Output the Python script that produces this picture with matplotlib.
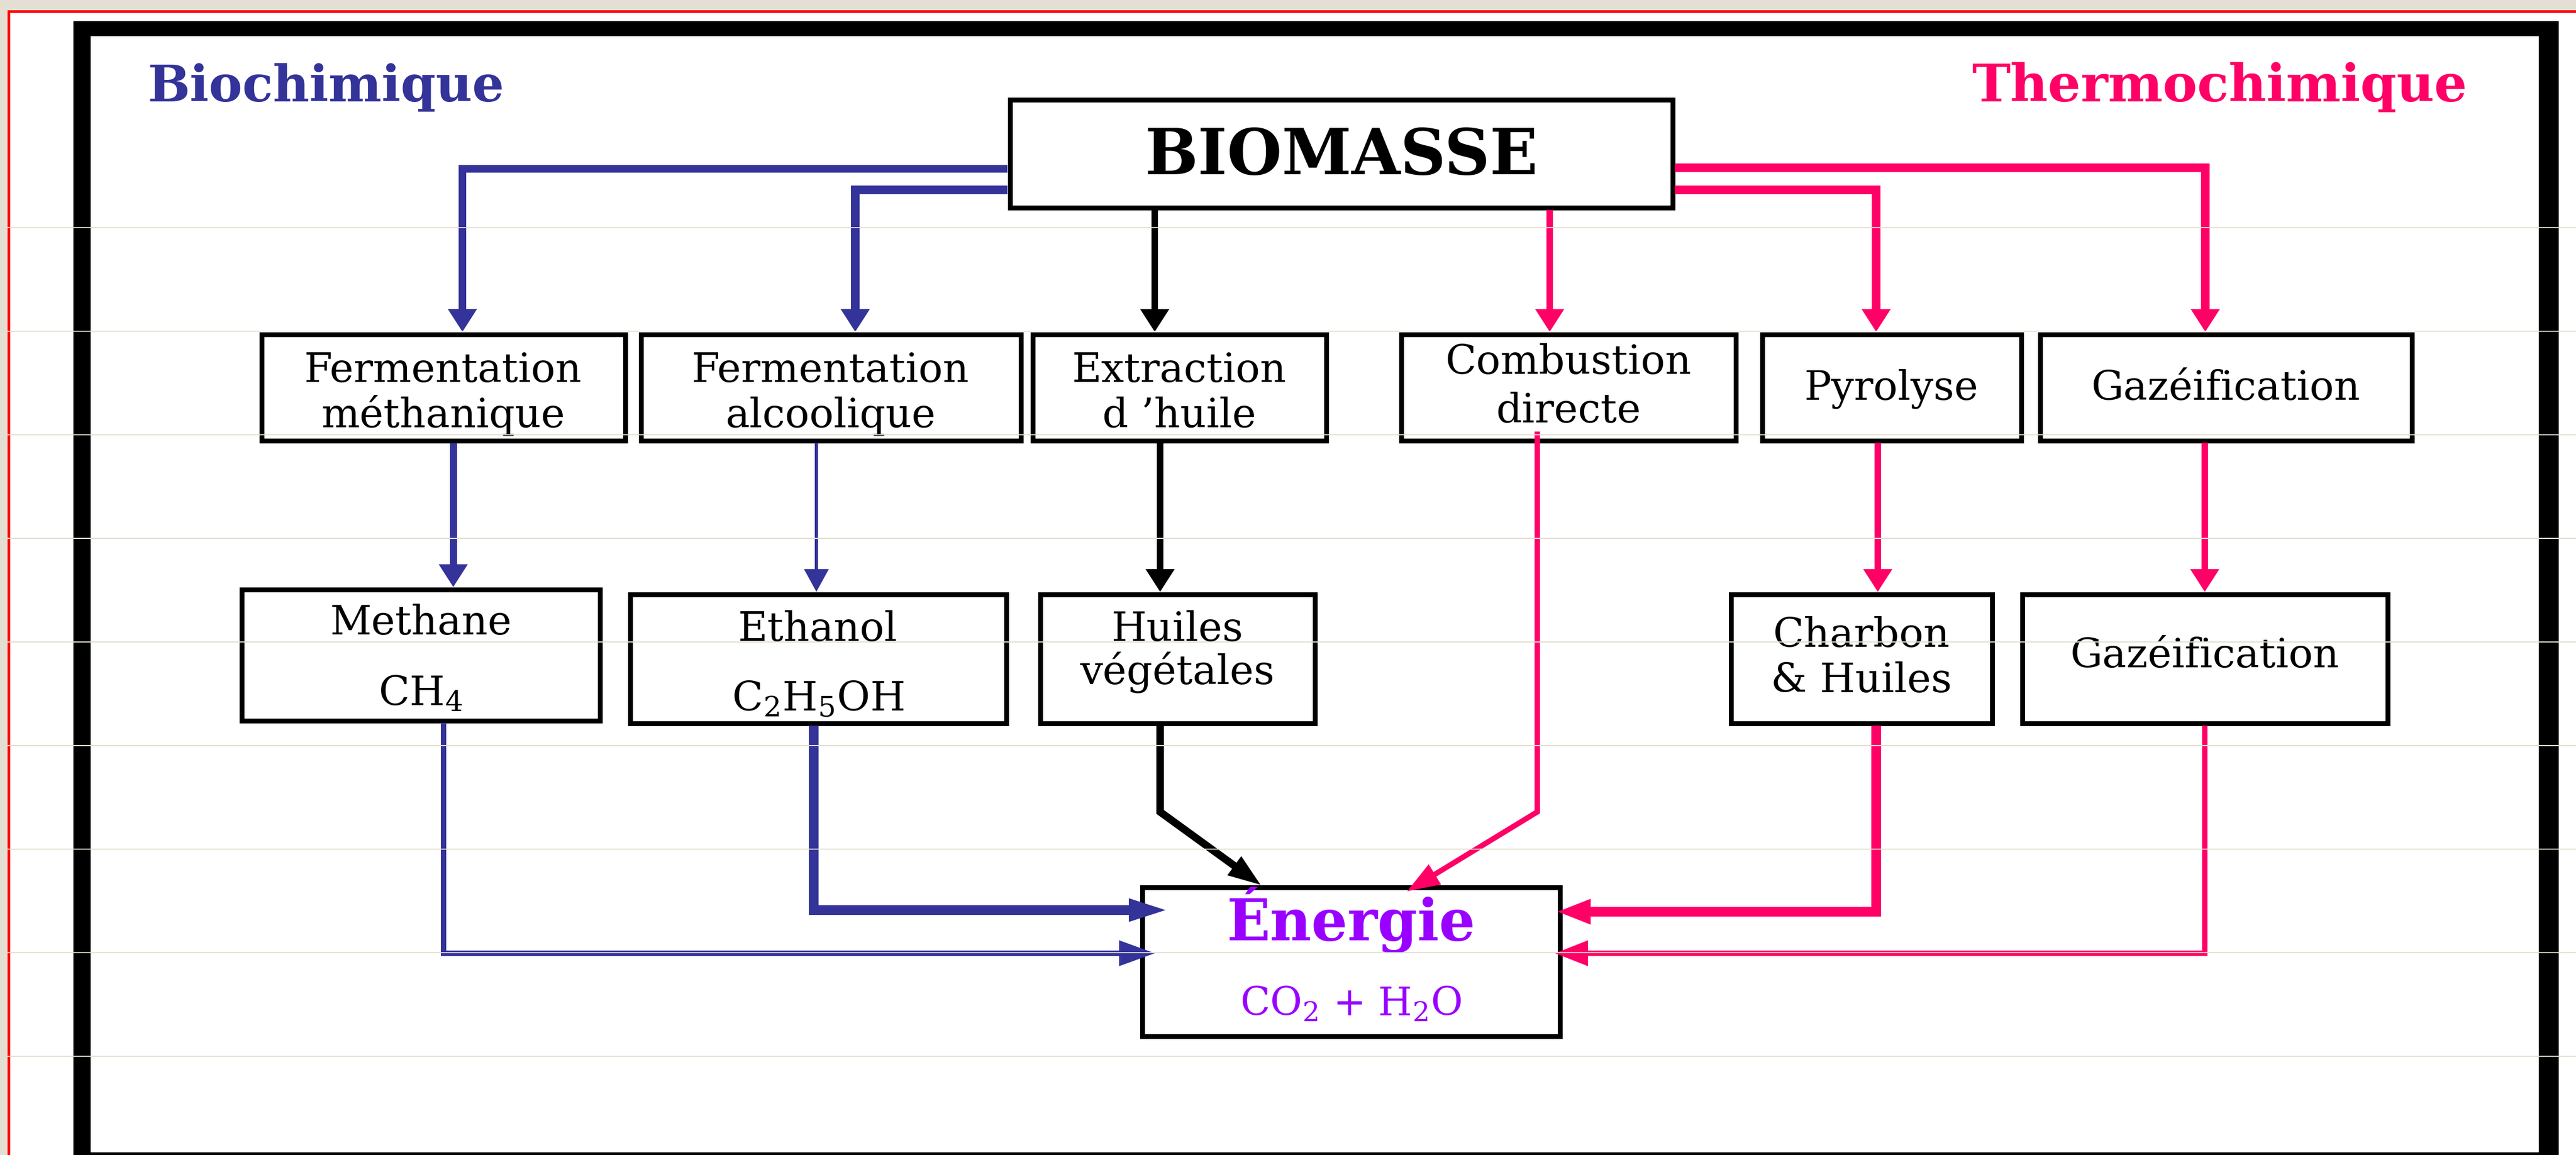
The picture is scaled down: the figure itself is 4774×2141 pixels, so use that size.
import numpy as np
import matplotlib
matplotlib.use("Agg")
import matplotlib.pyplot as plt
from matplotlib.patches import Rectangle, Polygon

plt.rcParams['font.family'] = 'DejaVu Serif'
plt.rcParams['mathtext.fontset'] = 'dejavuserif'

PT = 0.72  # 1 px en points (dpi 100)

BLEU = '#333399'
ROSE = '#FF0066'
VIOLET = '#9900FF'
BEIGE = '#E5DED3'

# textes du schema
titre_gauche = "Biochimique"
titre_droite = "Thermochimique"
source = "BIOMASSE"
procedes = [["Fermentation", "méthanique"], ["Fermentation", "alcoolique"],
            ["Extraction", "d \u2019huile"], ["Combustion", "directe"],
            ["Pyrolyse"], ["Gazéification"]]
produits = [["Methane", "CH$_4$"], ["Ethanol", "C$_2$H$_5$OH"], ["Huiles", "végétales"],
            ["Charbon", "& Huiles"], ["Gazéification"]]
final = ["Énergie", "CO$_2$ + H$_2$O"]

# mise en page (pixels de l'image)
box_source = (1867, 3104, 180, 389)
box_proc = [(480, 1163), (1183, 1896), (1909, 2462), (2592, 3221), (3261, 3750), (3776, 4474)]
y_proc = (615, 821)
base_proc = [(708, 792), (708, 792), (708, 792), (693, 783), (741,), (741,)]
box_prod = [(443, 1116, 1088, 1340), (1163, 1869, 1097, 1345), (1923, 2441, 1097, 1345),
            (3203, 3696, 1097, 1345), (3743, 4429, 1097, 1345)]
base_prod = [(1176, 1307), (1188, 1317), (1188, 1268), (1199, 1283), (1237,)]
box_final = (2112, 2895, 1640, 1925)

fig = plt.figure(figsize=(47.74, 21.41), dpi=100)
ax = fig.add_axes([0, 0, 1, 1])
ax.set_xlim(0, 4774)
ax.set_ylim(2141, 0)
ax.axis('off')

# fond, cadre rouge et cadre noir
ax.add_patch(Rectangle((15.5, 20.5), 6000, 3000, fc='white', ec='#FF0000', lw=5 * PT, zorder=0))
ax.add_patch(Rectangle((136, 39), 32, 2200, fc='black', ec='none', zorder=1))
ax.add_patch(Rectangle((136, 39), 4606, 28, fc='black', ec='none', zorder=1))
ax.add_patch(Rectangle((4705, 39), 37, 2200, fc='black', ec='none', zorder=1))
ax.add_patch(Rectangle((136, 2136), 4606, 30, fc='black', ec='none', zorder=1))


def boite(x0, x1, y0, y1, lw=9):
    ax.add_patch(Rectangle((x0 + lw / 2, y0 + lw / 2), x1 - x0 - lw, y1 - y0 - lw,
                           fc='white', ec='black', lw=lw * PT, joinstyle='miter', zorder=2))


def lignes(cx, textes, bases, size=54, **kw):
    for s, b in zip(textes, bases):
        ax.text(cx, b, s, ha='center', va='baseline', fontsize=size, zorder=4, **kw)


def fleche(pts, couleur, lw, tete=42, demi=27):
    pts = np.array(pts, dtype=float)
    d = pts[-1] - pts[-2]
    d = d / np.hypot(d[0], d[1])
    n = np.array([-d[1], d[0]])
    base = pts[-1] - d * tete
    trait = np.vstack([pts[:-1], base + d * tete * 0.3])
    ax.plot(trait[:, 0], trait[:, 1], color=couleur, lw=lw * PT,
            solid_capstyle='butt', solid_joinstyle='miter', zorder=3)
    ax.add_patch(Polygon([pts[-1], base + n * demi, base - n * demi], closed=True,
                         fc=couleur, ec='none', zorder=3))


# titres
ax.text(274, 188, titre_gauche, color=BLEU, fontsize=67, fontweight='bold', va='baseline', ha='left')
ax.text(4573, 188, titre_droite, color=ROSE, fontsize=69, fontweight='bold', va='baseline', ha='right')

# boites
boite(*box_source)
lignes((box_source[0] + box_source[1]) / 2, [source], [323], size=84, fontweight='bold')

for (x0, x1), txt, bs in zip(box_proc, procedes, base_proc):
    boite(x0, x1, *y_proc)
    lignes((x0 + x1) / 2, txt, bs)

for (x0, x1, y0, y1), txt, bs in zip(box_prod, produits, base_prod):
    boite(x0, x1, y0, y1)
    lignes((x0 + x1) / 2, txt, bs)

boite(*box_final)
cx = (box_final[0] + box_final[1]) / 2
ax.text(cx, 1743, final[0], ha='center', va='baseline', fontsize=76, fontweight='bold', color=VIOLET, zorder=4)
ax.text(cx, 1883, final[1], ha='center', va='baseline', fontsize=52, color=VIOLET, zorder=4)

# voie biochimique
fleche([(1867, 313), (857, 313), (857, 615)], BLEU, 14)
fleche([(1867, 352), (1585, 352), (1585, 615)], BLEU, 16)
fleche([(840, 821), (840, 1088)], BLEU, 13)
fleche([(1513, 821), (1513, 1097)], BLEU, 6, demi=23)
fleche([(822, 1340), (822, 1767), (2140, 1767)], BLEU, 10, tete=66, demi=24)
fleche([(1508, 1345), (1508, 1687), (2160, 1687)], BLEU, 18, tete=68, demi=22)

# extraction d'huile
fleche([(2140, 389), (2140, 615)], 'black', 12)
fleche([(2150, 821), (2150, 1097)], 'black', 12)
fleche([(2150, 1345), (2150, 1505), (2336, 1640)], 'black', 14, tete=60, demi=22)

# voie thermochimique
fleche([(3104, 311), (4087, 311), (4087, 615)], ROSE, 16)
fleche([(3104, 352), (3477, 352), (3477, 615)], ROSE, 16)
fleche([(2872, 389), (2872, 615)], ROSE, 12)
fleche([(2849, 800), (2849, 1505), (2608, 1652)], ROSE, 10, tete=60, demi=22)
fleche([(3480, 821), (3480, 1097)], ROSE, 12)
fleche([(4086, 821), (4086, 1097)], ROSE, 12)
fleche([(3477, 1345), (3477, 1690), (2887, 1690)], ROSE, 18, tete=61, demi=24)
fleche([(4086, 1345), (4086, 1767), (2882, 1767)], ROSE, 10, tete=61, demi=24)

# lignes de grille pales de la page
for y in np.arange(422, 2141, 192):
    ax.axhline(y, color='#E4DDCF', lw=2 * PT, zorder=10)

fig.savefig('out.png', dpi=100, facecolor=BEIGE)
